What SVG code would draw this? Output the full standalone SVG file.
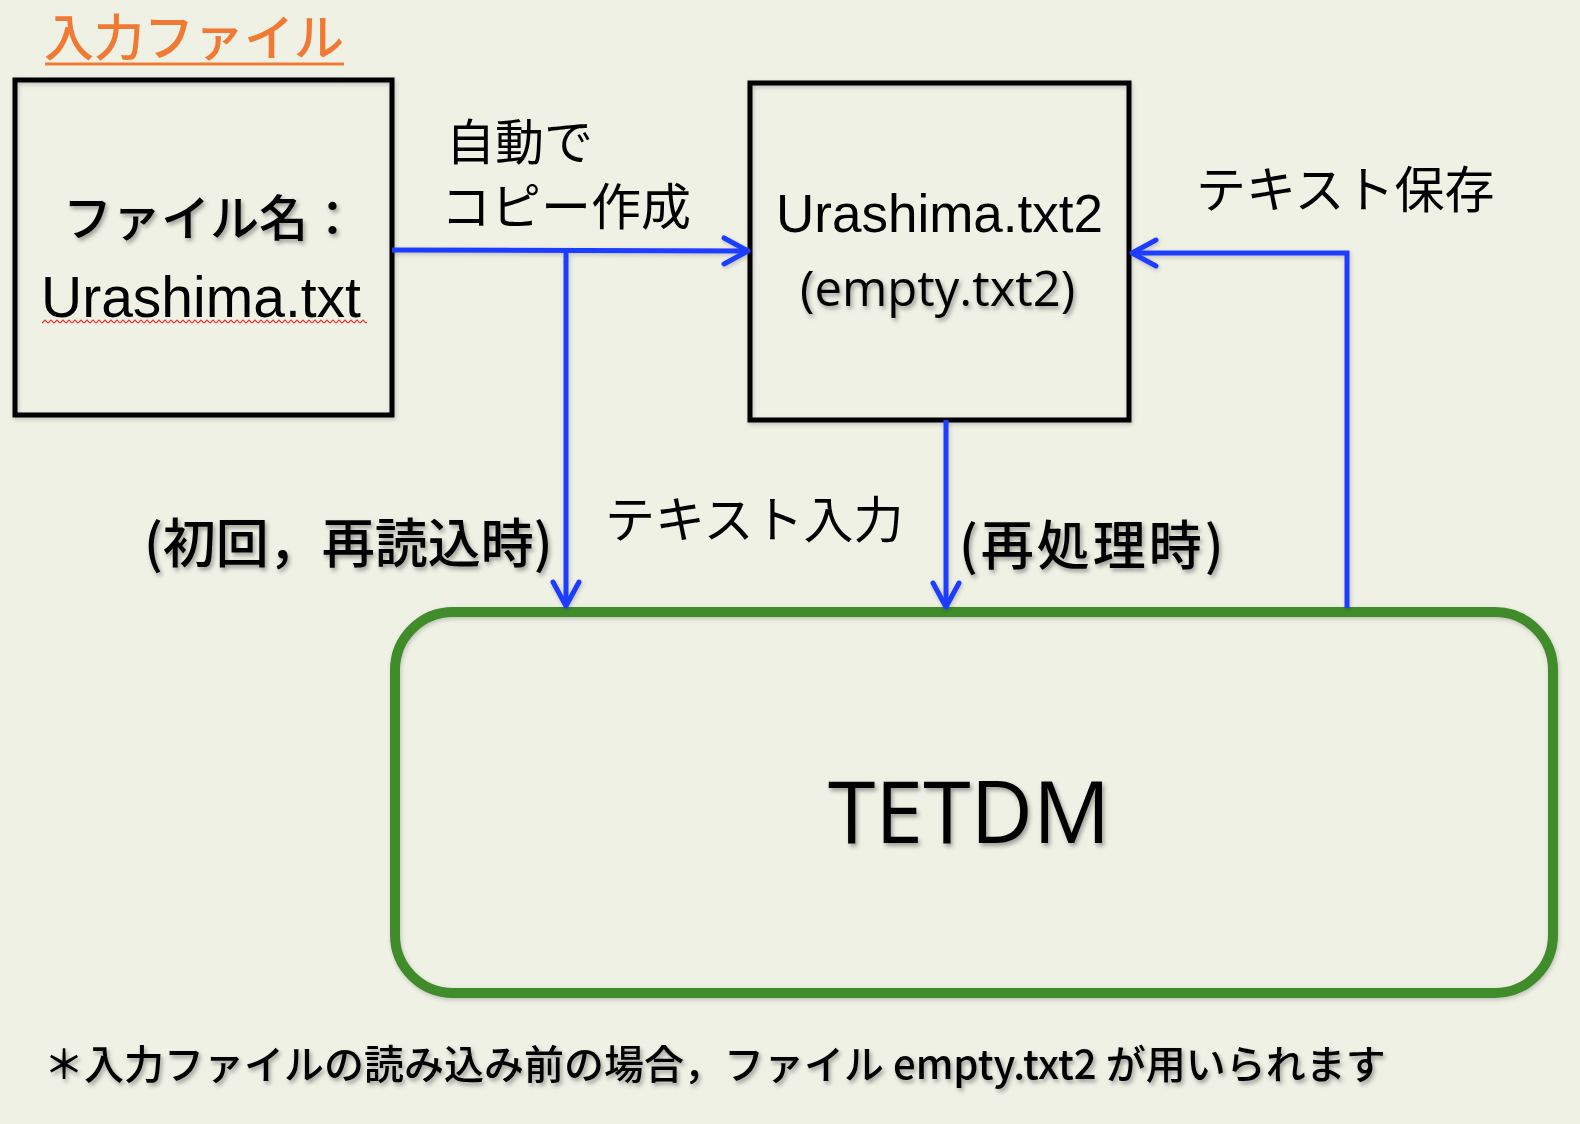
<svg xmlns="http://www.w3.org/2000/svg" width="1580" height="1124" viewBox="0 0 1580 1124">
<defs>
<style>
.jp{font-family:"Noto Sans CJK JP","Noto Sans CJK SC",sans-serif;fill:#000;}
.en{font-family:"Liberation Sans",Arial,sans-serif;fill:#000;}
.os{font-family:"Open Sans","Liberation Sans",sans-serif;fill:#000;}
.box{fill:none;stroke:#000;stroke-width:5;}
.conn{fill:none;stroke:#1f3dff;stroke-width:5;}
</style>
<filter id="sh" x="-10%" y="-10%" width="130%" height="140%">
<feDropShadow dx="2" dy="3" stdDeviation="2" flood-color="#000" flood-opacity="0.35"/>
</filter>
<filter id="shl" x="-10%" y="-10%" width="130%" height="140%">
<feDropShadow dx="1" dy="2" stdDeviation="2" flood-color="#000" flood-opacity="0.2"/>
</filter>
<marker id="arr" viewBox="-30 -16 34 32" refX="0" refY="0" markerWidth="34" markerHeight="32" markerUnits="userSpaceOnUse" orient="auto">
<path d="M-24,-13 L0,0 L-24,13" fill="none" stroke="#1f3dff" stroke-width="5" stroke-linecap="round" stroke-linejoin="round"/>
</marker>
<pattern id="sq" x="42" y="319" width="6" height="5" patternUnits="userSpaceOnUse">
<polyline points="0,4 3,1 6,4" fill="none" stroke="#e8302a" stroke-width="1.2"/>
</pattern>
</defs>
<rect x="0" y="0" width="1580" height="1124" fill="#eff1e5"/>

<g id="title">
<text class="jp" x="44" y="56" font-size="50" font-weight="500" style="fill:#f07a34">入力ファイル</text>
<line x1="45" y1="64" x2="344" y2="64" stroke="#f07a34" stroke-width="3"/>
</g>

<g id="node-input">
<rect class="box" x="15" y="80" width="377" height="335" filter="url(#shl)"/>
<text class="jp" x="63" y="236" font-size="49" font-weight="500" filter="url(#sh)">ファイル名：</text>
<text class="en" x="41" y="317" font-size="57">Urashima.txt</text>
<rect x="42" y="319" width="325" height="5" fill="url(#sq)"/>
</g>

<g id="node-copy">
<rect class="box" x="750" y="83" width="379" height="337" filter="url(#shl)"/>
<text class="en" x="776" y="232" font-size="53">Urashima.txt2</text>
<text class="os" x="800" y="306" font-size="49" filter="url(#sh)">(empty.txt2)</text>
</g>

<g id="node-tetdm">
<rect x="395" y="612" width="1158" height="381" rx="58" ry="58" fill="none" stroke="#3f8c2c" stroke-width="10" filter="url(#shl)"/>
<text class="os" x="828" y="843" font-size="86" filter="url(#sh)">TETDM</text>
</g>

<g id="connectors" filter="url(#shl)">
<line class="conn" x1="392" y1="250" x2="748" y2="251" marker-end="url(#arr)"/>
<line class="conn" x1="566" y1="250" x2="566" y2="606" marker-end="url(#arr)"/>
<line class="conn" x1="946" y1="420" x2="946" y2="607" marker-end="url(#arr)"/>
<polyline class="conn" points="1347,608 1347,253 1132,253" marker-end="url(#arr)"/>
</g>

<g id="labels">
<text class="jp" x="446" y="160" font-size="49">自動で</text>
<text class="jp" x="441" y="225" font-size="50">コピー作成</text>
<text class="jp" x="1196" y="208" font-size="50">テキスト保存</text>
<text class="jp" x="605" y="538" font-size="50">テキスト入力</text>
<text class="jp" x="144" y="563" font-size="53" font-weight="500" filter="url(#sh)">(初回，再読込時)</text>
<text class="jp" x="959" y="565" font-size="53" font-weight="500" letter-spacing="3" filter="url(#sh)">(再処理時)</text>
</g>

<g id="note">
<text class="jp" x="44" y="1079" font-size="40" font-weight="500" filter="url(#sh)">＊入力ファイルの読み込み前の場合，ファイル empty.txt2 が用いられます</text>
</g>
</svg>
